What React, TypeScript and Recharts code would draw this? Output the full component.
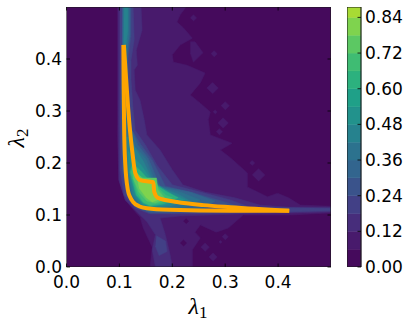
import React from "react";
import { ScatterChart, Scatter, XAxis, YAxis } from "recharts";

type Pt = number[];

const floorBand: Pt[] = [[0,0],[0.5,0],[0.5,0.5],[0,0.5]];
const band1: Pt[] = [[0.096,0.5],[0.226,0.5],[0.215,0.485],[0.209,0.471],[0.221,0.46],[0.238,0.44],[0.215,0.427],[0.2,0.408],[0.202,0.394],[0.228,0.388],[0.262,0.373],[0.253,0.354],[0.234,0.331],[0.253,0.315],[0.272,0.298],[0.268,0.283],[0.272,0.254],[0.313,0.238],[0.291,0.225],[0.31,0.21],[0.342,0.181],[0.342,0.154],[0.38,0.135],[0.399,0.142],[0.42,0.133],[0.442,0.119],[0.5,0.117],[0.5,0.104],[0.423,0.1],[0.334,0.1],[0.306,0.075],[0.283,0.067],[0.253,0.081],[0.243,0.067],[0.253,0.056],[0.238,0.033],[0.238,0],[0.158,0],[0.162,0.038],[0.145,0.075],[0.139,0.096],[0.13,0.106],[0.111,0.129],[0.099,0.167],[0.096,0.263]];
const band1Patch: Pt[] = [[0.234,0.433],[0.243,0.433],[0.258,0.412],[0.24,0.394],[0.234,0.412]];
const band1Spots: Pt[] = [[0.24,0.479,0.006],[0.279,0.41,0.006],[0.276,0.344,0.011],[0.3,0.31,0.008],[0.281,0.298,0.004],[0.296,0.277,0.01],[0.289,0.26,0.006],[0.351,0.2,0.005],[0.363,0.177,0.012],[0.262,0.038,0.008],[0.277,0.019,0.008],[0.3,0.058,0.006],[0.291,0.048,0.003]];
const floorSpots: Pt[] = [[0.221,0.046,0.006],[0.226,0.088,0.005]];
const band2: Pt[] = [[0.098,0.5],[0.141,0.5],[0.143,0.456],[0.132,0.417],[0.134,0.388],[0.128,0.379],[0.13,0.34],[0.139,0.321],[0.147,0.283],[0.152,0.254],[0.177,0.225],[0.2,0.187],[0.22,0.158],[0.262,0.144],[0.319,0.133],[0.366,0.119],[0.423,0.115],[0.5,0.115],[0.5,0.106],[0.423,0.104],[0.329,0.102],[0.215,0.098],[0.177,0.094],[0.187,0.062],[0.196,0.023],[0.2,0],[0.168,0],[0.162,0.033],[0.168,0.062],[0.152,0.087],[0.139,0.1],[0.111,0.129],[0.099,0.167],[0.098,0.321]];
const band3: Pt[] = [[0.101,0.5],[0.126,0.5],[0.128,0.437],[0.122,0.398],[0.122,0.36],[0.126,0.302],[0.13,0.263],[0.149,0.235],[0.171,0.196],[0.2,0.158],[0.253,0.144],[0.31,0.129],[0.347,0.115],[0.5,0.113],[0.5,0.108],[0.329,0.104],[0.196,0.102],[0.158,0.102],[0.13,0.113],[0.109,0.138],[0.101,0.187],[0.101,0.398]];
const band3Low: Pt[] = [[0.17,0.06],[0.187,0.05],[0.19,0.03],[0.175,0.022],[0.168,0.04]];
const band4: Pt[] = [[0.105,0.5],[0.122,0.5],[0.122,0.446],[0.116,0.398],[0.118,0.321],[0.124,0.263],[0.141,0.235],[0.162,0.206],[0.187,0.156],[0.243,0.142],[0.3,0.125],[0.329,0.115],[0.3,0.106],[0.196,0.104],[0.158,0.104],[0.134,0.113],[0.115,0.138],[0.105,0.187],[0.103,0.321],[0.105,0.398]];
const band5: Pt[] = [[0.106,0.5],[0.12,0.5],[0.12,0.446],[0.115,0.408],[0.115,0.321],[0.12,0.273],[0.135,0.235],[0.154,0.21],[0.177,0.156],[0.234,0.144],[0.281,0.127],[0.262,0.113],[0.196,0.106],[0.158,0.106],[0.135,0.115],[0.119,0.138],[0.109,0.187],[0.105,0.321],[0.105,0.398]];
const band6: Pt[] = [[0.107,0.5],[0.118,0.5],[0.118,0.446],[0.113,0.408],[0.111,0.321],[0.118,0.273],[0.13,0.231],[0.149,0.21],[0.171,0.156],[0.215,0.144],[0.253,0.129],[0.224,0.115],[0.158,0.11],[0.139,0.115],[0.122,0.138],[0.113,0.187],[0.107,0.321],[0.107,0.398]];
const band7Top: Pt[] = [[0.109,0.5],[0.116,0.5],[0.116,0.456],[0.111,0.417],[0.108,0.417]];
const band7: Pt[] = [[0.118,0.25],[0.132,0.225],[0.145,0.204],[0.168,0.156],[0.211,0.14],[0.234,0.127],[0.196,0.117],[0.158,0.113],[0.141,0.119],[0.126,0.138],[0.115,0.187],[0.113,0.25]];
const band8: Pt[] = [[0.122,0.215],[0.141,0.196],[0.162,0.165],[0.2,0.14],[0.224,0.129],[0.187,0.119],[0.158,0.115],[0.143,0.121],[0.13,0.138],[0.118,0.183],[0.116,0.225]];
const band9: Pt[] = [[0.124,0.2],[0.14,0.185],[0.158,0.165],[0.187,0.146],[0.211,0.133],[0.183,0.121],[0.158,0.117],[0.145,0.123],[0.132,0.138],[0.12,0.183]];
const band10: Pt[] = [[0.124,0.19],[0.139,0.175],[0.165,0.16],[0.188,0.138],[0.2,0.133],[0.177,0.123],[0.158,0.119],[0.145,0.125],[0.134,0.142],[0.122,0.183]];
const band11: Pt[] = [[0.126,0.187],[0.143,0.171],[0.17,0.171],[0.173,0.148],[0.187,0.131],[0.168,0.123],[0.152,0.127],[0.137,0.144],[0.126,0.171]];
const band12: Pt[] = [[0.132,0.177],[0.153,0.162],[0.168,0.162],[0.168,0.138],[0.177,0.131],[0.162,0.125],[0.151,0.133],[0.137,0.152]];
const band13: Pt[] = [[0.151,0.154],[0.166,0.158],[0.166,0.137],[0.158,0.131],[0.151,0.14]];

const outerCurve: Pt[] = [[0.1075,0.427],[0.108,0.35],[0.109,0.263],[0.111,0.2],[0.116,0.148],[0.12,0.135],[0.126,0.125],[0.137,0.117],[0.152,0.113],[0.196,0.11],[0.31,0.108],[0.421,0.108]];
const innerCurve: Pt[] = [[0.1085,0.427],[0.12,0.263],[0.124,0.225],[0.13,0.181],[0.139,0.167],[0.164,0.163],[0.166,0.144],[0.173,0.133],[0.209,0.125],[0.259,0.119],[0.31,0.115],[0.421,0.108]];

const axisTicks = [0, 0.1, 0.2, 0.3, 0.4];
const barTicks = [0, 0.12, 0.24, 0.36, 0.48, 0.6, 0.72, 0.84];
const barEdges = [0,0.06,0.12,0.18,0.24,0.3,0.36,0.42,0.48,0.54,0.6,0.66,0.72,0.78,0.84,0.875];
const palette = ["#450a5c","#481a6c","#472d7b","#424086","#3a538b","#32658e","#2c728e","#26828e","#22928c","#1fa088","#2cb17e","#3fbc73","#5cc863","#7fd34e","#a8db34"];

const FONT = "'DejaVu Sans', sans-serif";
const PLOT = { top: 7, bottom: 267, left: 66.5, right: 331 };
const noShape = () => <g />;
const toPoints = (p: Pt[]) => p.map(([x, y]) => ({ x, y }));
const spot = ([x, y, r]: Pt): Pt[] => [[x - r, y], [x, y + r], [x + r, y], [x, y - r]];

const Poly = (key: string, pts: Pt[], fill: string) => (
  <Scatter key={key} data={toPoints(pts)} dataKey="y" isAnimationActive={false} shape={noShape} legendType="none"
    lineType="joint" line={{ fill, stroke: fill, strokeWidth: 0.5 }} />
);
const Path = (key: string, pts: Pt[]) => (
  <Scatter key={key} data={toPoints(pts)} dataKey="y" isAnimationActive={false} shape={noShape} legendType="none"
    lineType="joint" lineJointType="monotoneX" line={{ fill: "none", stroke: "#ffa500", strokeWidth: 4, strokeLinejoin: "round" }} />
);
const Frame = (pts: Pt[]) => (
  <Scatter data={toPoints([...pts, pts[0]])} dataKey="y" isAnimationActive={false} shape={noShape} legendType="none"
    lineType="joint" line={{ fill: "none", stroke: "#1a1a1a", strokeWidth: 1.1 }} />
);

const XTick = ({ x, payload }: any) => (
  <g>
    <line x1={x} x2={x} y1={PLOT.bottom} y2={PLOT.bottom - 3.5} stroke="#000" strokeWidth={0.8} />
    <line x1={x} x2={x} y1={PLOT.top} y2={PLOT.top + 3.5} stroke="#000" strokeWidth={0.8} />
    <text x={x} y={288} textAnchor="middle" fontFamily={FONT} fontSize={17} fill="#000">{payload.value.toFixed(1)}</text>
  </g>
);
const YTick = ({ y, payload }: any) => (
  <g>
    <line x1={PLOT.left} x2={PLOT.left + 3.5} y1={y} y2={y} stroke="#000" strokeWidth={0.8} />
    <line x1={PLOT.right} x2={PLOT.right - 3.5} y1={y} y2={y} stroke="#000" strokeWidth={0.8} />
    <text x={62} y={y + 6} textAnchor="end" fontFamily={FONT} fontSize={17} fill="#000">{payload.value.toFixed(1)}</text>
  </g>
);
const BarTick = ({ y, payload }: any) => (
  <g>
    <line x1={14} x2={10.5} y1={y} y2={y} stroke="#000" strokeWidth={0.8} />
    <text x={18} y={y + 6} textAnchor="start" fontFamily={FONT} fontSize={17} fill="#000">{payload.value.toFixed(2)}</text>
  </g>
);
const MathLabel = ({ sub, x, y, rotate }: { sub: string; x: number; y: number; rotate?: boolean }) => (
  <text x={x} y={y} textAnchor="middle" fill="#000" fontFamily="'Liberation Serif', serif" fontSize={24}
    transform={rotate ? `rotate(-90 ${x} ${y})` : undefined}>
    <tspan fontStyle="italic">λ</tspan>
    <tspan fontSize={17} dy={4}>{sub}</tspan>
  </text>
);

export default function App() {
  return (
    <div style={{ position: "absolute", left: 0, top: 0, width: 412, height: 327, background: "#fff" }}>
      <div style={{ position: "absolute", left: 0, top: 0 }}>
        <ScatterChart width={340} height={327} margin={{ top: 7, right: 9, left: 0, bottom: 0 }}>
          {Poly("floor", floorBand, palette[0])}
          {Poly("b1", band1, palette[1])}
          {Poly("b1p", band1Patch, palette[1])}
          {band1Spots.map((s, i) => Poly(`s${i}`, spot(s), palette[1]))}
          {floorSpots.map((s, i) => Poly(`f${i}`, spot(s), palette[0]))}
          {Poly("b2", band2, palette[2])}
          {Poly("b3", band3, palette[3])}
          {Poly("b3l", band3Low, palette[3])}
          {Poly("b4", band4, palette[4])}
          {Poly("b5", band5, palette[5])}
          {Poly("b6", band6, palette[6])}
          {Poly("b7t", band7Top, palette[7])}
          {Poly("b7", band7, palette[7])}
          {Poly("b8", band8, palette[8])}
          {Poly("b9", band9, palette[10])}
          {Poly("b10", band10, palette[11])}
          {Poly("b11", band11, palette[12])}
          {Poly("b12", band12, palette[13])}
          {Poly("b13", band13, palette[13])}
          {Path("outer", outerCurve)}
          {Path("inner", innerCurve)}
          {Frame(floorBand)}
          <XAxis type="number" dataKey="x" domain={[0, 0.5]} ticks={axisTicks} height={60} axisLine={false} tickLine={false} tick={<XTick />} allowDataOverflow />
          <YAxis type="number" dataKey="y" domain={[0, 0.5]} ticks={axisTicks} width={66.5} axisLine={false} tickLine={false} tick={<YTick />} allowDataOverflow />
          <MathLabel sub="1" x={198} y={314} />
          <MathLabel sub="2" x={24} y={138} rotate />
        </ScatterChart>
      </div>
      <div style={{ position: "absolute", left: 347, top: 0 }}>
        <ScatterChart width={65} height={327} margin={{ top: 7, right: 0, left: 0, bottom: 60 }}>
          {palette.map((c, i) =>
            Poly(`c${i}`, [[0, barEdges[i]], [1, barEdges[i]], [1, barEdges[i + 1]], [0, barEdges[i + 1]]], c)
          )}
          {Frame([[0, 0], [1, 0], [1, 0.875], [0, 0.875]])}
          <XAxis type="number" dataKey="x" domain={[0, 1]} hide />
          <YAxis type="number" dataKey="y" orientation="right" domain={[0, 0.875]} ticks={barTicks} width={51} axisLine={false} tickLine={false} tick={<BarTick />} allowDataOverflow interval={0} />
        </ScatterChart>
      </div>
    </div>
  );
}
